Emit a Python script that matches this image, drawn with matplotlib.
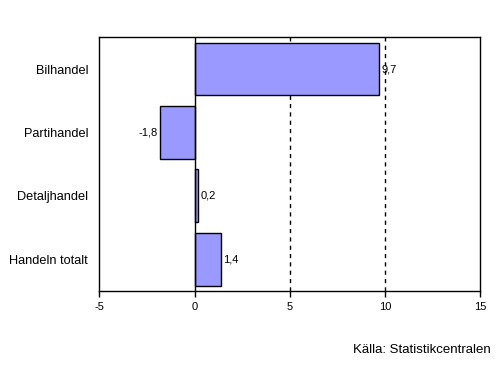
import matplotlib.pyplot as plt

plt.rcParams['font.family'] = ['Liberation Sans', 'DejaVu Sans']

categories = ['Bilhandel', 'Partihandel', 'Detaljhandel', 'Handeln totalt']
values = [9.7, -1.8, 0.2, 1.4]
value_labels = ['9,7', '-1,8', '0,2', '1,4']
xticks = [-5, 0, 5, 10, 15]

fig = plt.figure(figsize=(5.03, 3.70), dpi=100)
ax = fig.add_axes([0.1974, 0.2135, 0.7575, 0.6857])

ypos = list(range(len(categories)))
ax.barh(ypos, values, height=0.835, color='#9999ff', edgecolor='black', linewidth=1, zorder=3)

ax.set_xlim(-5, 15)
ax.set_ylim(len(categories) - 0.5, -0.5)
ax.set_xticks(xticks)
ax.set_xticklabels([str(t) for t in xticks], fontsize=8)
ax.set_yticks(ypos)
ax.set_yticklabels(categories, fontsize=9.2)
ax.tick_params(axis='y', length=0, pad=8)
ax.tick_params(axis='x', direction='out', length=4, width=1, pad=4)

for x in [5, 10]:
    ax.axvline(x, color='black', linestyle=(0, (3, 3)), linewidth=1, zorder=1)
ax.axvline(0, color='black', linewidth=1, zorder=4)

for y, v, lab in zip(ypos, values, value_labels):
    if v >= 0:
        ax.text(v + 0.12, y, lab, ha='left', va='center', fontsize=8, zorder=5)
    else:
        ax.text(v - 0.12, y, lab, ha='right', va='center', fontsize=8, zorder=5)

for s in ax.spines.values():
    s.set_linewidth(1)

fig.text(0.975, 0.055, 'Källa: Statistikcentralen', ha='right', va='center', fontsize=9.5)

fig.savefig('out.png', dpi=100)
